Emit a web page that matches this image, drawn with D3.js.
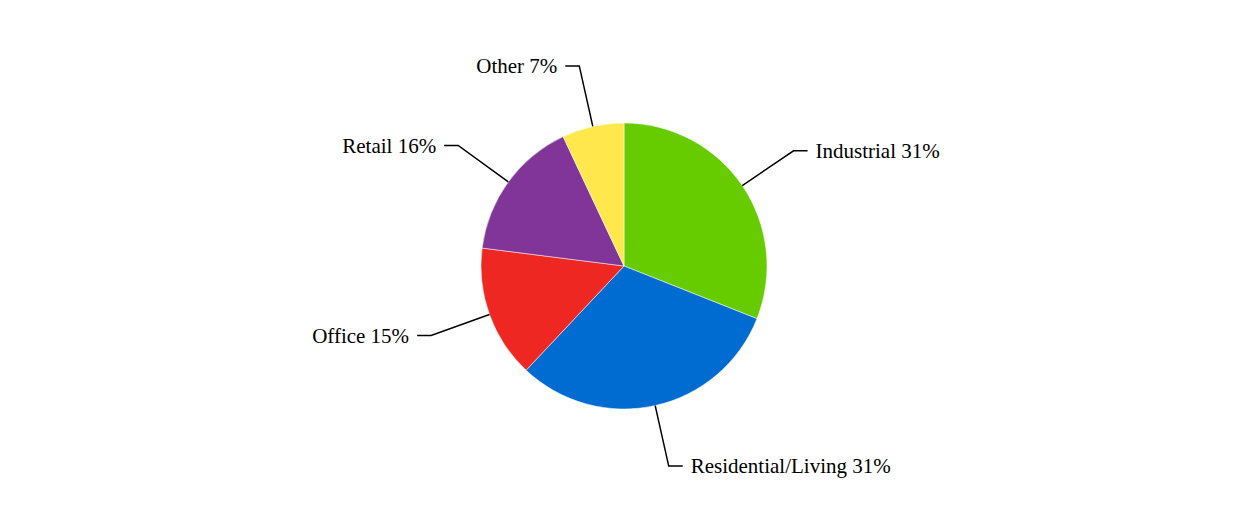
<!DOCTYPE html>
<html><head><meta charset="utf-8">
<script src="https://cdn.jsdelivr.net/npm/d3@7"></script>
<style>body{margin:0;background:#fff}</style></head>
<body><svg id="c" width="1248" height="532"></svg>
<script>
const categories = ["Industrial","Residential/Living","Office","Retail","Other"];
const values = [31,31,15,16,7];
const colors = ["#66cc00","#006cd1","#ee2722","#823598","#ffe74c"];
const svg = d3.select("#c");
const cx=624, cy=266, r=143;
const g = svg.append("g").attr("transform",`translate(${cx},${cy})`);
const pie = d3.pie().sort(null).value(d=>d)(values);
const arc = d3.arc().innerRadius(0).outerRadius(r);
g.selectAll("path.s").data(pie).join("path").attr("d",arc)
 .attr("fill",(d,i)=>colors[i]).attr("stroke","#fff").attr("stroke-width",0.5);
pie.forEach((d,i)=>{
  const a=(d.startAngle+d.endAngle)/2;
  const sx=Math.sin(a), sy=-Math.cos(a);
  const p0=[sx*r,sy*r], p1=[sx*205,sy*205];
  const right = sx>=0;
  const p2=[p1[0]+(right?14:-14),p1[1]];
  g.append("polyline").attr("points",[p0,p1,p2].map(p=>p.join(",")).join(" "))
   .attr("fill","none").attr("stroke","#000").attr("stroke-width",1.5);
  g.append("text").attr("x",p2[0]+(right?8:-8)).attr("y",p2[1]).attr("dy","0.35em")
   .attr("text-anchor",right?"start":"end")
   .style("font-family","'Liberation Serif','Times New Roman',serif").style("font-size","21px")
   .text(categories[i]+" "+values[i]+"%");
});
</script></body></html>
